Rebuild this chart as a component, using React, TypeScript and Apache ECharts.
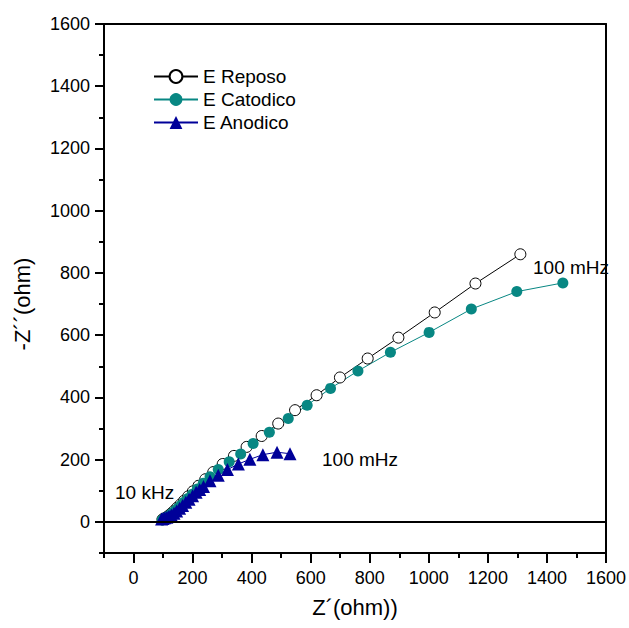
import React, { useEffect, useRef } from "react";
import * as echarts from "echarts";

const FONT = "'Liberation Sans', Arial, sans-serif";

const seriesNames = ["E Reposo", "E Catodico", "E Anodico"];

const reposo: number[][] = [
  [98, 8], [102, 10], [107, 12], [112, 15], [118, 19], [124, 24], [131, 30],
  [139, 37], [148, 46], [159, 56], [171, 68], [185, 82], [201, 98], [220, 116],
  [243, 137], [270, 160], [302, 186], [340, 212], [383, 241], [434, 276],
  [490, 316], [547, 359], [620, 407], [699, 464], [793, 525], [897, 592],
  [1020, 673], [1158, 766], [1310, 860],
];

const catodico: number[][] = [
  [97, 6], [100, 8], [104, 10], [109, 13], [114, 16], [120, 19], [126, 24],
  [133, 29], [141, 36], [150, 44], [160, 53], [171, 63], [184, 75], [199, 89],
  [216, 106], [236, 124], [259, 145], [287, 168], [324, 193], [363, 218],
  [405, 252], [460, 288], [524, 332], [588, 375], [667, 429], [760, 485],
  [870, 545], [1001, 609], [1144, 684], [1298, 740], [1454, 768],
];

const anodico: number[][] = [
  [95, 9], [100, 11], [106, 13], [113, 15], [120, 18], [128, 22], [137, 28],
  [146, 35], [156, 44], [166, 53], [177, 63], [188, 73], [200, 84], [212, 95],
  [224, 104], [237, 114], [259, 132], [287, 150], [318, 168], [355, 186],
  [394, 201], [438, 216], [486, 224], [530, 219],
];

const xMajorTicks = [0, 200, 400, 600, 800, 1000, 1200, 1400, 1600];
const xMinorTicks = [-100, 100, 300, 500, 700, 900, 1100, 1300, 1500];
const yMajorTicks = [0, 200, 400, 600, 800, 1000, 1200, 1400, 1600];
const yMinorTicks = [-100, 100, 300, 500, 700, 900, 1100, 1300, 1500];

const xTitle = "Z´(ohm))";
const yTitle = "-Z´´(ohm)";
const annotations = ["10 kHz", "100 mHz", "100 mHz"];

export default function App() {
  const ref = useRef<HTMLDivElement>(null);

  useEffect(() => {
    document.body.style.margin = "0";
    if (!ref.current) return;
    const chart = echarts.init(ref.current, null, { renderer: "svg" });

    const axisLineStyle = { color: "#000", width: 2 };
    const tickStyle = { color: "#000", width: 2 };
    const labelStyle = {
      fontSize: 18,
      color: "#000",
      fontFamily: FONT,
      formatter: (v: number) => String(v),
    };

    const option: any = {
      animation: false,
      backgroundColor: "#fff",
      grid: { left: 104, top: 24, width: 503, height: 529, containLabel: false },
      legend: {
        data: seriesNames,
        orient: "vertical",
        left: 153,
        top: 67,
        padding: 0,
        itemWidth: 44,
        itemHeight: 16,
        itemGap: 4,
        textStyle: { fontSize: 19, color: "#000", fontFamily: FONT },
      },
      xAxis: [
        {
          type: "value", min: -100, max: 1600, position: "bottom",
          axisLine: { show: true, onZero: false, lineStyle: axisLineStyle },
          axisTick: { show: true, customValues: xMajorTicks, length: 10, lineStyle: tickStyle },
          axisLabel: { show: true, customValues: xMajorTicks, margin: 16, ...labelStyle },
          splitLine: { show: false },
        },
        {
          type: "value", min: -100, max: 1600, position: "bottom",
          axisLine: { show: false, onZero: false },
          axisTick: { show: true, customValues: xMinorTicks, length: 5, lineStyle: tickStyle },
          axisLabel: { show: false },
          splitLine: { show: false },
        },
        {
          type: "value", min: -100, max: 1600, position: "top",
          axisLine: { show: true, onZero: false, lineStyle: axisLineStyle },
          axisTick: { show: false },
          axisLabel: { show: false },
          splitLine: { show: false },
        },
      ],
      yAxis: [
        {
          type: "value", min: -100, max: 1600, position: "left",
          axisLine: { show: true, onZero: false, lineStyle: axisLineStyle },
          axisTick: { show: true, customValues: yMajorTicks, length: 9, lineStyle: tickStyle },
          axisLabel: { show: true, customValues: yMajorTicks, margin: 14, ...labelStyle },
          splitLine: { show: false },
        },
        {
          type: "value", min: -100, max: 1600, position: "left",
          axisLine: { show: false, onZero: false },
          axisTick: { show: true, customValues: yMinorTicks, length: 5, lineStyle: tickStyle },
          axisLabel: { show: false },
          splitLine: { show: false },
        },
        {
          type: "value", min: -100, max: 1600, position: "right",
          axisLine: { show: true, onZero: false, lineStyle: axisLineStyle },
          axisTick: { show: false },
          axisLabel: { show: false },
          splitLine: { show: false },
        },
      ],
      series: [
        {
          name: seriesNames[0],
          type: "line",
          data: reposo,
          symbol: "circle",
          symbolSize: 11,
          itemStyle: { color: "#fff", borderColor: "#000", borderWidth: 1 },
          lineStyle: { color: "#000", width: 1 },
          markLine: {
            silent: true,
            symbol: ["none", "none"],
            label: { show: false },
            lineStyle: { color: "#000", width: 2, type: "solid" },
            data: [{ yAxis: 0 }],
          },
        },
        {
          name: seriesNames[1],
          type: "line",
          data: catodico,
          symbol: "circle",
          symbolSize: 11,
          itemStyle: { color: "#088783" },
          lineStyle: { color: "#088783", width: 1 },
        },
        {
          name: seriesNames[2],
          type: "line",
          data: anodico,
          symbol: "triangle",
          symbolSize: 13,
          itemStyle: { color: "#000099" },
          lineStyle: { color: "#000099", width: 1 },
        },
      ],
      graphic: [
        {
          type: "text", x: 355, y: 607,
          style: { text: xTitle, fontSize: 22, fill: "#000", fontFamily: FONT, align: "center", verticalAlign: "middle" },
        },
        {
          type: "text", x: 22, y: 304, rotation: Math.PI / 2,
          style: { text: yTitle, fontSize: 22, fill: "#000", fontFamily: FONT, align: "center", verticalAlign: "middle" },
        },
        {
          type: "text", x: 115, y: 492,
          style: { text: annotations[0], fontSize: 19, fill: "#000", fontFamily: FONT, align: "left", verticalAlign: "middle" },
        },
        {
          type: "text", x: 533, y: 267,
          style: { text: annotations[1], fontSize: 19, fill: "#000", fontFamily: FONT, align: "left", verticalAlign: "middle" },
        },
        {
          type: "text", x: 322, y: 459,
          style: { text: annotations[2], fontSize: 19, fill: "#000", fontFamily: FONT, align: "left", verticalAlign: "middle" },
        },
      ],
    };

    chart.setOption(option);
    return () => chart.dispose();
  }, []);

  return (
    <div
      ref={ref}
      style={{ position: "absolute", left: 0, top: 0, width: 629, height: 628 }}
    />
  );
}
